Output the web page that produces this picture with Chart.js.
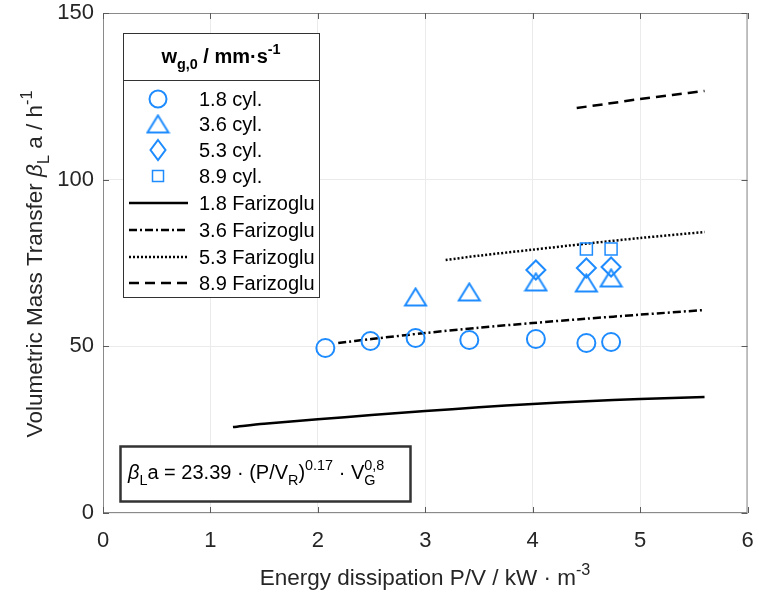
<!DOCTYPE html>
<html>
<head>
<meta charset="utf-8">
<script src="https://cdn.jsdelivr.net/npm/chart.js@4"></script>
<style>
  html, body { margin: 0; padding: 0; background: #fff; }
  #grafico { display: block; }
</style>
</head>
<body>
<canvas id="grafico" width="759" height="594"></canvas>
<script>
const cyl18X = [2.07, 2.49, 2.91, 3.41, 4.03, 4.50, 4.73];
const cyl18Y = [49.5, 51.6, 52.5, 51.9, 52.2, 51.0, 51.3];
const cyl36X = [2.91, 3.41, 4.03, 4.50, 4.73];
const cyl36Y = [64.8, 66.3, 69.3, 69.0, 70.5];
const cyl53X = [4.03, 4.50, 4.73];
const cyl53Y = [72.9, 73.5, 73.8];
const cyl89X = [4.50, 4.73];
const cyl89Y = [79.2, 79.2];

// correlation curves (Farizoglu)
const far18X = [1.21, 1.5, 2.0, 2.5, 3.0, 3.5, 4.0, 4.5, 5.0, 5.6];
const far18Y = [25.8, 26.8, 28.1, 29.4, 30.6, 31.7, 32.7, 33.5, 34.2, 34.8];
const far36X = [2.19, 2.5, 3.0, 3.5, 4.0, 4.5, 5.0, 5.6];
const far36Y = [51.0, 52.2, 54.0, 55.6, 57.0, 58.3, 59.5, 60.9];
const far53X = [3.19, 3.5, 4.0, 4.5, 5.0, 5.6];
const far53Y = [75.9, 77.2, 79.0, 80.8, 82.5, 84.3];
const far89X = [4.41, 4.7, 5.0, 5.3, 5.6];
const far89Y = [121.5, 122.8, 124.2, 125.4, 126.6];

const xTicks = [0, 1, 2, 3, 4, 5, 6];
const yTicks = [0, 50, 100, 150];

const azul = 'rgb(30, 140, 255)';
const preto = '#000000';
const corTexto = '#262626';
const corEixo = '#8a8a8a';
const fonte = '"Liberation Sans", Arial, sans-serif';

const pares = (xs, ys) => xs.map((x, i) => ({ x: x, y: ys[i] }));

function trianguloCanvas(tam) {
    const c = document.createElement('canvas');
    c.width = tam + 4; c.height = tam;
    const g = c.getContext('2d');
    g.strokeStyle = azul; g.lineWidth = 2;
    g.beginPath();
    g.moveTo(c.width / 2, 2);
    g.lineTo(c.width - 2, c.height - 2);
    g.lineTo(2, c.height - 2);
    g.closePath();
    g.stroke();
    return c;
}
const triImg = trianguloCanvas(21);

function fonteDe(p, tam) {
    return (p.b ? 'bold ' : '') + (p.i ? 'italic ' : '') + tam + 'px ' + fonte;
}

// desenha texto com partes sub/sobrescritas (p.up / p.dn podem ser empilhados)
function textoRico(ctx, partes, x, y, tam, align) {
    const pequeno = tam * 0.72;
    const larg = (p) => {
        if (p.t !== undefined) { ctx.font = fonteDe(p, tam); return ctx.measureText(p.t).width; }
        ctx.font = fonteDe(p, pequeno);
        const a = p.up ? ctx.measureText(p.up).width : 0;
        const b = p.dn ? ctx.measureText(p.dn).width : 0;
        return Math.max(a, b);
    };
    const total = partes.reduce((s, p) => s + larg(p), 0);
    let cx = align === 'center' ? x - total / 2 : x;
    partes.forEach(p => {
        const w = larg(p);
        if (p.t !== undefined) {
            ctx.font = fonteDe(p, tam);
            ctx.fillText(p.t, cx, y);
        } else {
            ctx.font = fonteDe(p, pequeno);
            if (p.up) ctx.fillText(p.up, cx, y - tam * 0.45);
            if (p.dn) ctx.fillText(p.dn, cx, y + tam * 0.3);
        }
        cx += w;
    });
}

const extras = {
    id: 'extras',
    afterDraw(chart) {
        const ctx = chart.ctx;
        const a = chart.chartArea;
        const sx = chart.scales.x, sy = chart.scales.y;
        ctx.save();

        // borda e ticks para dentro
        ctx.strokeStyle = corEixo;
        ctx.lineWidth = 1;
        ctx.strokeRect(a.left + 0.5, a.top + 0.5, a.right - a.left - 1, a.bottom - a.top - 1);
        ctx.strokeStyle = '#5a5a5a';
        ctx.beginPath();
        xTicks.forEach(v => {
            const px = Math.round(sx.getPixelForValue(v)) + 0.5;
            ctx.moveTo(px, a.bottom); ctx.lineTo(px, a.bottom - 6);
            ctx.moveTo(px, a.top); ctx.lineTo(px, a.top + 6);
        });
        yTicks.forEach(v => {
            const py = Math.round(sy.getPixelForValue(v)) + 0.5;
            ctx.moveTo(a.left, py); ctx.lineTo(a.left + 6, py);
            ctx.moveTo(a.right, py); ctx.lineTo(a.right - 6, py);
        });
        ctx.stroke();

        ctx.fillStyle = corTexto;
        ctx.textBaseline = 'alphabetic';

        // titulo eixo x
        textoRico(ctx, [
            { t: 'Energy dissipation P/V / kW \u00b7 m' },
            { up: '-3' }
        ], 425, 585, 22.5, 'center');

        // titulo eixo y
        ctx.save();
        ctx.translate(42, 264);
        ctx.rotate(-Math.PI / 2);
        textoRico(ctx, [
            { t: 'Volumetric Mass Transfer ' },
            { t: '\u03b2', i: true },
            { dn: 'L' },
            { t: ' a / h' },
            { up: '-1' }
        ], 0, 0, 22.5, 'center');
        ctx.restore();

        // legenda
        const lx = 123, ly = 33, lw = 196, lh = 264;
        ctx.fillStyle = '#fff';
        ctx.fillRect(lx, ly, lw, lh);
        ctx.strokeStyle = '#333';
        ctx.lineWidth = 1;
        ctx.strokeRect(lx + 0.5, ly + 0.5, lw, lh);
        ctx.beginPath();
        ctx.moveTo(lx, 80.5); ctx.lineTo(lx + lw, 80.5);
        ctx.stroke();
        ctx.fillStyle = '#000';
        textoRico(ctx, [
            { t: 'w', b: true },
            { dn: 'g,0', b: true },
            { t: ' / mm\u00b7s', b: true },
            { up: '-1', b: true }
        ], lx + lw / 2, 63, 20, 'center');

        const itens = chart.data.datasets;
        const linhaY = [99, 124, 150, 176, 203, 230, 257, 283];
        itens.forEach((ds, i) => {
            const yy = linhaY[i];
            const mx = 158;
            ctx.strokeStyle = ds.borderColor;
            ctx.lineWidth = ds.showLine ? ds.borderWidth : 2;
            if (ds.showLine) {
                ctx.setLineDash(ds.borderDash || []);
                ctx.beginPath();
                ctx.moveTo(129, yy); ctx.lineTo(188, yy);
                ctx.stroke();
                ctx.setLineDash([]);
            } else if (ds.pointStyle === 'circle') {
                ctx.beginPath(); ctx.arc(mx, yy, 8.5, 0, Math.PI * 2); ctx.stroke();
            } else if (ds.pointStyle === 'rectRot') {
                ctx.beginPath();
                ctx.moveTo(mx, yy - 10); ctx.lineTo(mx + 7.5, yy); ctx.lineTo(mx, yy + 10); ctx.lineTo(mx - 7.5, yy);
                ctx.closePath(); ctx.stroke();
            } else if (ds.pointStyle === 'rect') {
                ctx.lineWidth = 1.5;
                ctx.strokeRect(mx - 5.5, yy - 5.5, 11, 11);
            } else {
                ctx.drawImage(triImg, mx - triImg.width / 2, yy - triImg.height / 2);
            }
            ctx.fillStyle = '#000';
            ctx.font = '20px ' + fonte;
            ctx.textBaseline = 'middle';
            ctx.fillText(ds.label, 199, yy + 1);
            ctx.textBaseline = 'alphabetic';
        });

        // caixa da equacao
        ctx.fillStyle = '#fff';
        ctx.fillRect(120, 446, 290, 55);
        ctx.strokeStyle = '#333';
        ctx.strokeRect(120.5, 446.5, 290, 55);
        ctx.fillStyle = '#000';
        textoRico(ctx, [
            { t: '\u03b2', i: true },
            { dn: 'L' },
            { t: 'a = 23.39 \u00b7 (P/V' },
            { dn: 'R' },
            { t: ')' },
            { up: '0.17' },
            { t: ' \u00b7 V' },
            { up: '0,8', dn: 'G' }
        ], 128, 479, 20, 'left');

        ctx.restore();
    }
};

const canvas_grafico = document.getElementById('grafico');
const ctx = canvas_grafico.getContext('2d');

const semPadding = (s) => { s.paddingLeft = 0; s.paddingRight = 0; s.paddingTop = 0; s.paddingBottom = 0; };

new Chart(ctx, {
    type: 'scatter',
    data: {
        datasets: [
            { label: '1.8 cyl.', data: pares(cyl18X, cyl18Y), pointStyle: 'circle', pointRadius: 9, borderColor: azul, backgroundColor: 'transparent', borderWidth: 2 },
            { label: '3.6 cyl.', data: pares(cyl36X, cyl36Y), pointStyle: triImg, borderColor: azul, backgroundColor: 'transparent', borderWidth: 2 },
            { label: '5.3 cyl.', data: pares(cyl53X, cyl53Y), pointStyle: 'rectRot', pointRadius: 9.5, borderColor: azul, backgroundColor: 'transparent', borderWidth: 2 },
            { label: '8.9 cyl.', data: pares(cyl89X, cyl89Y), pointStyle: 'rect', pointRadius: 8.5, borderColor: azul, backgroundColor: 'transparent', borderWidth: 1.5 },
            { label: '1.8 Farizoglu', data: pares(far18X, far18Y), showLine: true, pointRadius: 0, borderColor: preto, borderWidth: 2.5, tension: 0.3 },
            { label: '3.6 Farizoglu', data: pares(far36X, far36Y), showLine: true, pointRadius: 0, borderColor: preto, borderWidth: 2.5, borderDash: [8, 3, 2, 3], tension: 0.3 },
            { label: '5.3 Farizoglu', data: pares(far53X, far53Y), showLine: true, pointRadius: 0, borderColor: preto, borderWidth: 2.5, borderDash: [2, 2], tension: 0.3 },
            { label: '8.9 Farizoglu', data: pares(far89X, far89Y), showLine: true, pointRadius: 0, borderColor: preto, borderWidth: 2.5, borderDash: [10, 6], tension: 0.3 },
        ],
    },
    options: {
        responsive: false,
        animation: false,
        layout: { padding: { top: 13, right: 9, left: 0, bottom: 0 } },
        plugins: { legend: { display: false }, tooltip: { enabled: false } },
        scales: {
            x: {
                type: 'linear', min: 0, max: 6,
                afterFit: (s) => { s.height = 81; semPadding(s); },
                afterBuildTicks: (s) => { s.ticks = xTicks.map(v => ({ value: v })); },
                grid: { color: '#ebebeb', drawTicks: false },
                border: { display: false },
                ticks: { padding: 15, color: corTexto, font: { family: fonte, size: 22 } },
            },
            y: {
                type: 'linear', min: 0, max: 150,
                afterFit: (s) => { s.width = 103; semPadding(s); },
                afterBuildTicks: (s) => { s.ticks = yTicks.map(v => ({ value: v })); },
                grid: { color: '#ebebeb', drawTicks: false },
                border: { display: false },
                ticks: { padding: 9, color: corTexto, font: { family: fonte, size: 22 } },
            },
        },
    },
    plugins: [extras],
});
</script>
</body>
</html>
